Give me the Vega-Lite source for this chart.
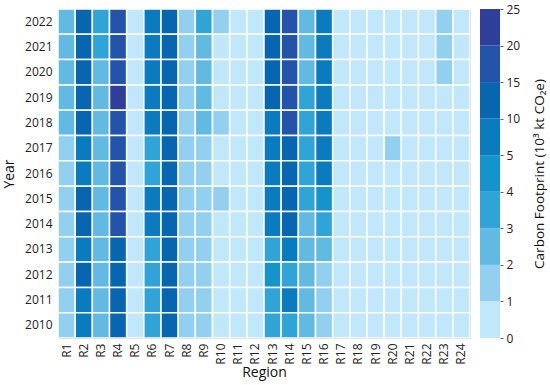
{
  "$schema": "https://vega.github.io/schema/vega-lite/v6.json",
  "padding": {"left": 2, "top": 3, "right": 0, "bottom": 2},
  "config": {
    "font": "Open Sans",
    "axis": {"labelColor": "#222", "titleColor": "#111", "titleFontWeight": "normal", "labelFontSize": 12, "titleFontSize": 14}
  },
  "datasets": {
    "cells": [
      {"r":"R1","y":2022,"v":2.4},{"r":"R1","y":2021,"v":2.3},{"r":"R1","y":2020,"v":2.2},{"r":"R1","y":2019,"v":2.3},{"r":"R1","y":2018,"v":2.1},{"r":"R1","y":2017,"v":1.8},{"r":"R1","y":2016,"v":1.7},{"r":"R1","y":2015,"v":1.6},{"r":"R1","y":2014,"v":1.6},{"r":"R1","y":2013,"v":1.5},{"r":"R1","y":2012,"v":1.5},{"r":"R1","y":2011,"v":1.4},{"r":"R1","y":2010,"v":1.4},
      {"r":"R2","y":2022,"v":12.5},{"r":"R2","y":2021,"v":12.8},{"r":"R2","y":2020,"v":12.2},{"r":"R2","y":2019,"v":12.6},{"r":"R2","y":2018,"v":11.8},{"r":"R2","y":2017,"v":9.2},{"r":"R2","y":2016,"v":9.0},{"r":"R2","y":2015,"v":11.5},{"r":"R2","y":2014,"v":11.2},{"r":"R2","y":2013,"v":9.6},{"r":"R2","y":2012,"v":10.4},{"r":"R2","y":2011,"v":9.5},{"r":"R2","y":2010,"v":9.0},
      {"r":"R3","y":2022,"v":3.4},{"r":"R3","y":2021,"v":3.2},{"r":"R3","y":2020,"v":2.8},{"r":"R3","y":2019,"v":2.7},{"r":"R3","y":2018,"v":2.6},{"r":"R3","y":2017,"v":2.5},{"r":"R3","y":2016,"v":2.5},{"r":"R3","y":2015,"v":2.6},{"r":"R3","y":2014,"v":2.5},{"r":"R3","y":2013,"v":2.5},{"r":"R3","y":2012,"v":2.4},{"r":"R3","y":2011,"v":2.4},{"r":"R3","y":2010,"v":2.3},
      {"r":"R4","y":2022,"v":17.5},{"r":"R4","y":2021,"v":18.2},{"r":"R4","y":2020,"v":17.8},{"r":"R4","y":2019,"v":21.0},{"r":"R4","y":2018,"v":17.2},{"r":"R4","y":2017,"v":16.8},{"r":"R4","y":2016,"v":16.5},{"r":"R4","y":2015,"v":16.2},{"r":"R4","y":2014,"v":16.0},{"r":"R4","y":2013,"v":14.5},{"r":"R4","y":2012,"v":13.8},{"r":"R4","y":2011,"v":13.2},{"r":"R4","y":2010,"v":12.8},
      {"r":"R5","y":2022,"v":0.6},{"r":"R5","y":2021,"v":0.6},{"r":"R5","y":2020,"v":0.6},{"r":"R5","y":2019,"v":0.6},{"r":"R5","y":2018,"v":0.6},{"r":"R5","y":2017,"v":0.5},{"r":"R5","y":2016,"v":0.5},{"r":"R5","y":2015,"v":0.5},{"r":"R5","y":2014,"v":0.5},{"r":"R5","y":2013,"v":0.5},{"r":"R5","y":2012,"v":0.5},{"r":"R5","y":2011,"v":0.5},{"r":"R5","y":2010,"v":0.5},
      {"r":"R6","y":2022,"v":8.5},{"r":"R6","y":2021,"v":8.8},{"r":"R6","y":2020,"v":8.6},{"r":"R6","y":2019,"v":8.9},{"r":"R6","y":2018,"v":8.2},{"r":"R6","y":2017,"v":3.6},{"r":"R6","y":2016,"v":3.5},{"r":"R6","y":2015,"v":7.2},{"r":"R6","y":2014,"v":7.0},{"r":"R6","y":2013,"v":3.4},{"r":"R6","y":2012,"v":3.5},{"r":"R6","y":2011,"v":3.4},{"r":"R6","y":2010,"v":3.3},
      {"r":"R7","y":2022,"v":11.5},{"r":"R7","y":2021,"v":11.8},{"r":"R7","y":2020,"v":11.6},{"r":"R7","y":2019,"v":11.9},{"r":"R7","y":2018,"v":11.4},{"r":"R7","y":2017,"v":11.0},{"r":"R7","y":2016,"v":10.8},{"r":"R7","y":2015,"v":11.2},{"r":"R7","y":2014,"v":11.0},{"r":"R7","y":2013,"v":10.6},{"r":"R7","y":2012,"v":10.9},{"r":"R7","y":2011,"v":10.5},{"r":"R7","y":2010,"v":10.3},
      {"r":"R8","y":2022,"v":1.6},{"r":"R8","y":2021,"v":1.5},{"r":"R8","y":2020,"v":1.5},{"r":"R8","y":2019,"v":1.5},{"r":"R8","y":2018,"v":1.5},{"r":"R8","y":2017,"v":1.4},{"r":"R8","y":2016,"v":1.4},{"r":"R8","y":2015,"v":1.4},{"r":"R8","y":2014,"v":1.4},{"r":"R8","y":2013,"v":1.3},{"r":"R8","y":2012,"v":1.3},{"r":"R8","y":2011,"v":1.3},{"r":"R8","y":2010,"v":1.3},
      {"r":"R9","y":2022,"v":3.2},{"r":"R9","y":2021,"v":2.4},{"r":"R9","y":2020,"v":2.3},{"r":"R9","y":2019,"v":2.3},{"r":"R9","y":2018,"v":2.2},{"r":"R9","y":2017,"v":1.8},{"r":"R9","y":2016,"v":1.7},{"r":"R9","y":2015,"v":1.6},{"r":"R9","y":2014,"v":1.6},{"r":"R9","y":2013,"v":1.5},{"r":"R9","y":2012,"v":1.5},{"r":"R9","y":2011,"v":1.4},{"r":"R9","y":2010,"v":1.4},
      {"r":"R10","y":2022,"v":1.2},{"r":"R10","y":2021,"v":0.9},{"r":"R10","y":2020,"v":0.9},{"r":"R10","y":2019,"v":0.9},{"r":"R10","y":2018,"v":1.1},{"r":"R10","y":2017,"v":0.8},{"r":"R10","y":2016,"v":0.8},{"r":"R10","y":2015,"v":1.1},{"r":"R10","y":2014,"v":0.8},{"r":"R10","y":2013,"v":0.7},{"r":"R10","y":2012,"v":0.7},{"r":"R10","y":2011,"v":0.7},{"r":"R10","y":2010,"v":0.7},
      {"r":"R11","y":2022,"v":0.7},{"r":"R11","y":2021,"v":0.7},{"r":"R11","y":2020,"v":0.7},{"r":"R11","y":2019,"v":0.7},{"r":"R11","y":2018,"v":0.7},{"r":"R11","y":2017,"v":0.6},{"r":"R11","y":2016,"v":0.6},{"r":"R11","y":2015,"v":0.6},{"r":"R11","y":2014,"v":0.6},{"r":"R11","y":2013,"v":0.6},{"r":"R11","y":2012,"v":0.6},{"r":"R11","y":2011,"v":0.6},{"r":"R11","y":2010,"v":0.6},
      {"r":"R12","y":2022,"v":0.6},{"r":"R12","y":2021,"v":0.6},{"r":"R12","y":2020,"v":0.6},{"r":"R12","y":2019,"v":0.6},{"r":"R12","y":2018,"v":0.6},{"r":"R12","y":2017,"v":0.5},{"r":"R12","y":2016,"v":0.5},{"r":"R12","y":2015,"v":0.5},{"r":"R12","y":2014,"v":0.5},{"r":"R12","y":2013,"v":0.5},{"r":"R12","y":2012,"v":0.5},{"r":"R12","y":2011,"v":0.5},{"r":"R12","y":2010,"v":0.5},
      {"r":"R13","y":2022,"v":12.0},{"r":"R13","y":2021,"v":12.4},{"r":"R13","y":2020,"v":11.8},{"r":"R13","y":2019,"v":11.2},{"r":"R13","y":2018,"v":8.5},{"r":"R13","y":2017,"v":8.2},{"r":"R13","y":2016,"v":8.0},{"r":"R13","y":2015,"v":7.5},{"r":"R13","y":2014,"v":7.2},{"r":"R13","y":2013,"v":3.8},{"r":"R13","y":2012,"v":4.5},{"r":"R13","y":2011,"v":3.7},{"r":"R13","y":2010,"v":3.6},
      {"r":"R14","y":2022,"v":16.5},{"r":"R14","y":2021,"v":17.0},{"r":"R14","y":2020,"v":16.8},{"r":"R14","y":2019,"v":16.6},{"r":"R14","y":2018,"v":16.2},{"r":"R14","y":2017,"v":13.0},{"r":"R14","y":2016,"v":12.0},{"r":"R14","y":2015,"v":11.5},{"r":"R14","y":2014,"v":11.2},{"r":"R14","y":2013,"v":9.5},{"r":"R14","y":2012,"v":3.8},{"r":"R14","y":2011,"v":8.0},{"r":"R14","y":2010,"v":3.7},
      {"r":"R15","y":2022,"v":2.8},{"r":"R15","y":2021,"v":2.7},{"r":"R15","y":2020,"v":2.8},{"r":"R15","y":2019,"v":3.2},{"r":"R15","y":2018,"v":3.3},{"r":"R15","y":2017,"v":3.2},{"r":"R15","y":2016,"v":3.1},{"r":"R15","y":2015,"v":3.0},{"r":"R15","y":2014,"v":2.8},{"r":"R15","y":2013,"v":2.6},{"r":"R15","y":2012,"v":2.5},{"r":"R15","y":2011,"v":2.5},{"r":"R15","y":2010,"v":2.4},
      {"r":"R16","y":2022,"v":8.8},{"r":"R16","y":2021,"v":9.0},{"r":"R16","y":2020,"v":8.6},{"r":"R16","y":2019,"v":8.9},{"r":"R16","y":2018,"v":8.5},{"r":"R16","y":2017,"v":8.0},{"r":"R16","y":2016,"v":8.5},{"r":"R16","y":2015,"v":4.2},{"r":"R16","y":2014,"v":3.6},{"r":"R16","y":2013,"v":2.6},{"r":"R16","y":2012,"v":1.9},{"r":"R16","y":2011,"v":1.8},{"r":"R16","y":2010,"v":1.7},
      {"r":"R17","y":2022,"v":0.5},{"r":"R17","y":2021,"v":0.5},{"r":"R17","y":2020,"v":0.5},{"r":"R17","y":2019,"v":0.5},{"r":"R17","y":2018,"v":0.5},{"r":"R17","y":2017,"v":0.5},{"r":"R17","y":2016,"v":0.5},{"r":"R17","y":2015,"v":0.5},{"r":"R17","y":2014,"v":0.5},{"r":"R17","y":2013,"v":0.5},{"r":"R17","y":2012,"v":0.5},{"r":"R17","y":2011,"v":0.5},{"r":"R17","y":2010,"v":0.5},
      {"r":"R18","y":2022,"v":0.4},{"r":"R18","y":2021,"v":0.4},{"r":"R18","y":2020,"v":0.4},{"r":"R18","y":2019,"v":0.4},{"r":"R18","y":2018,"v":0.4},{"r":"R18","y":2017,"v":0.4},{"r":"R18","y":2016,"v":0.4},{"r":"R18","y":2015,"v":0.4},{"r":"R18","y":2014,"v":0.4},{"r":"R18","y":2013,"v":0.4},{"r":"R18","y":2012,"v":0.4},{"r":"R18","y":2011,"v":0.4},{"r":"R18","y":2010,"v":0.4},
      {"r":"R19","y":2022,"v":0.4},{"r":"R19","y":2021,"v":0.4},{"r":"R19","y":2020,"v":0.4},{"r":"R19","y":2019,"v":0.4},{"r":"R19","y":2018,"v":0.4},{"r":"R19","y":2017,"v":0.4},{"r":"R19","y":2016,"v":0.4},{"r":"R19","y":2015,"v":0.4},{"r":"R19","y":2014,"v":0.4},{"r":"R19","y":2013,"v":0.4},{"r":"R19","y":2012,"v":0.4},{"r":"R19","y":2011,"v":0.4},{"r":"R19","y":2010,"v":0.4},
      {"r":"R20","y":2022,"v":0.6},{"r":"R20","y":2021,"v":0.6},{"r":"R20","y":2020,"v":0.6},{"r":"R20","y":2019,"v":0.6},{"r":"R20","y":2018,"v":0.7},{"r":"R20","y":2017,"v":1.2},{"r":"R20","y":2016,"v":0.6},{"r":"R20","y":2015,"v":0.6},{"r":"R20","y":2014,"v":0.6},{"r":"R20","y":2013,"v":0.5},{"r":"R20","y":2012,"v":0.5},{"r":"R20","y":2011,"v":0.5},{"r":"R20","y":2010,"v":0.5},
      {"r":"R21","y":2022,"v":0.3},{"r":"R21","y":2021,"v":0.3},{"r":"R21","y":2020,"v":0.3},{"r":"R21","y":2019,"v":0.3},{"r":"R21","y":2018,"v":0.3},{"r":"R21","y":2017,"v":0.3},{"r":"R21","y":2016,"v":0.3},{"r":"R21","y":2015,"v":0.3},{"r":"R21","y":2014,"v":0.3},{"r":"R21","y":2013,"v":0.3},{"r":"R21","y":2012,"v":0.3},{"r":"R21","y":2011,"v":0.3},{"r":"R21","y":2010,"v":0.3},
      {"r":"R22","y":2022,"v":0.3},{"r":"R22","y":2021,"v":0.3},{"r":"R22","y":2020,"v":0.3},{"r":"R22","y":2019,"v":0.3},{"r":"R22","y":2018,"v":0.3},{"r":"R22","y":2017,"v":0.3},{"r":"R22","y":2016,"v":0.3},{"r":"R22","y":2015,"v":0.3},{"r":"R22","y":2014,"v":0.3},{"r":"R22","y":2013,"v":0.3},{"r":"R22","y":2012,"v":0.3},{"r":"R22","y":2011,"v":0.3},{"r":"R22","y":2010,"v":0.3},
      {"r":"R23","y":2022,"v":1.3},{"r":"R23","y":2021,"v":1.2},{"r":"R23","y":2020,"v":1.2},{"r":"R23","y":2019,"v":0.9},{"r":"R23","y":2018,"v":0.8},{"r":"R23","y":2017,"v":0.8},{"r":"R23","y":2016,"v":0.7},{"r":"R23","y":2015,"v":0.7},{"r":"R23","y":2014,"v":0.6},{"r":"R23","y":2013,"v":0.6},{"r":"R23","y":2012,"v":0.6},{"r":"R23","y":2011,"v":0.5},{"r":"R23","y":2010,"v":0.5},
      {"r":"R24","y":2022,"v":0.4},{"r":"R24","y":2021,"v":0.4},{"r":"R24","y":2020,"v":0.4},{"r":"R24","y":2019,"v":0.4},{"r":"R24","y":2018,"v":0.4},{"r":"R24","y":2017,"v":0.4},{"r":"R24","y":2016,"v":0.4},{"r":"R24","y":2015,"v":0.4},{"r":"R24","y":2014,"v":0.4},{"r":"R24","y":2013,"v":0.4},{"r":"R24","y":2012,"v":0.4},{"r":"R24","y":2011,"v":0.4},{"r":"R24","y":2010,"v":0.4}
    ],
    "bins": [
      {"i":0,"j":1,"lo":0},{"i":1,"j":2,"lo":1},{"i":2,"j":3,"lo":2},{"i":3,"j":4,"lo":3},{"i":4,"j":5,"lo":4},
      {"i":5,"j":6,"lo":5},{"i":6,"j":7,"lo":10},{"i":7,"j":8,"lo":15},{"i":8,"j":9,"lo":20}
    ]
  },
  "hconcat": [
    {
      "width": 412,
      "height": 329,
      "data": {"name": "cells"},
      "view": {"stroke": "#8a8a8a", "strokeWidth": 1},
      "mark": {"type": "rect", "stroke": "white", "strokeWidth": 1.5},
      "encoding": {
        "x": {
          "field": "r", "type": "ordinal",
          "sort": ["R1","R2","R3","R4","R5","R6","R7","R8","R9","R10","R11","R12","R13","R14","R15","R16","R17","R18","R19","R20","R21","R22","R23","R24"],
          "scale": {"paddingInner": 0, "paddingOuter": 0},
          "axis": {"title": "Region", "labelAngle": -90, "ticks": false, "domain": false, "labelPadding": 5, "titlePadding": 1, "labelBaseline": "middle", "labelAlign": "right"}
        },
        "y": {
          "field": "y", "type": "ordinal", "sort": "descending",
          "scale": {"paddingInner": 0, "paddingOuter": 0},
          "axis": {"title": "Year", "ticks": false, "domain": false, "labelPadding": 6, "titlePadding": 8}
        },
        "color": {
          "field": "v", "type": "quantitative",
          "scale": {"type": "threshold", "domain": [1,2,3,4,5,10,15,20],
            "range": ["#c1e7fa","#93cfee","#62b9e2","#30a4d7","#1593cb","#0a7bbe","#0866b1","#2354a9","#2f3e98"]},
          "legend": null
        }
      }
    },
    {
      "width": 20,
      "height": 329,
      "data": {"name": "bins"},
      "view": {"stroke": null},
      "mark": {"type": "rect"},
      "encoding": {
        "x": {"datum": 0, "type": "quantitative", "scale": {"domain": [0,1]}, "axis": null},
        "x2": {"datum": 1},
        "y": {
          "field": "i", "type": "quantitative",
          "scale": {"domain": [0,9], "nice": false, "zero": false},
          "axis": {
            "orient": "right", "values": [0,1,2,3,4,5,6,7,8,9],
            "labelExpr": "['0','1','2','3','4','5','10','15','20','25'][datum.value]",
            "labelOverlap": false,
            "grid": false, "domain": false, "tickSize": 3, "tickColor": "#666",
            "labelPadding": 3,
            "title": "Carbon Footprint  (10³ kt CO₂e)",
            "titleFontSize": 13.5,
            "titleAngle": -90, "titleBaseline": "top", "titlePadding": 13
          }
        },
        "y2": {"field": "j"},
        "color": {
          "field": "lo", "type": "quantitative",
          "scale": {"type": "threshold", "domain": [1,2,3,4,5,10,15,20],
            "range": ["#c1e7fa","#93cfee","#62b9e2","#30a4d7","#1593cb","#0a7bbe","#0866b1","#2354a9","#2f3e98"]},
          "legend": null
        }
      }
    }
  ],
  "spacing": 8,
  "resolve": {"scale": {"color": "independent"}}
}
